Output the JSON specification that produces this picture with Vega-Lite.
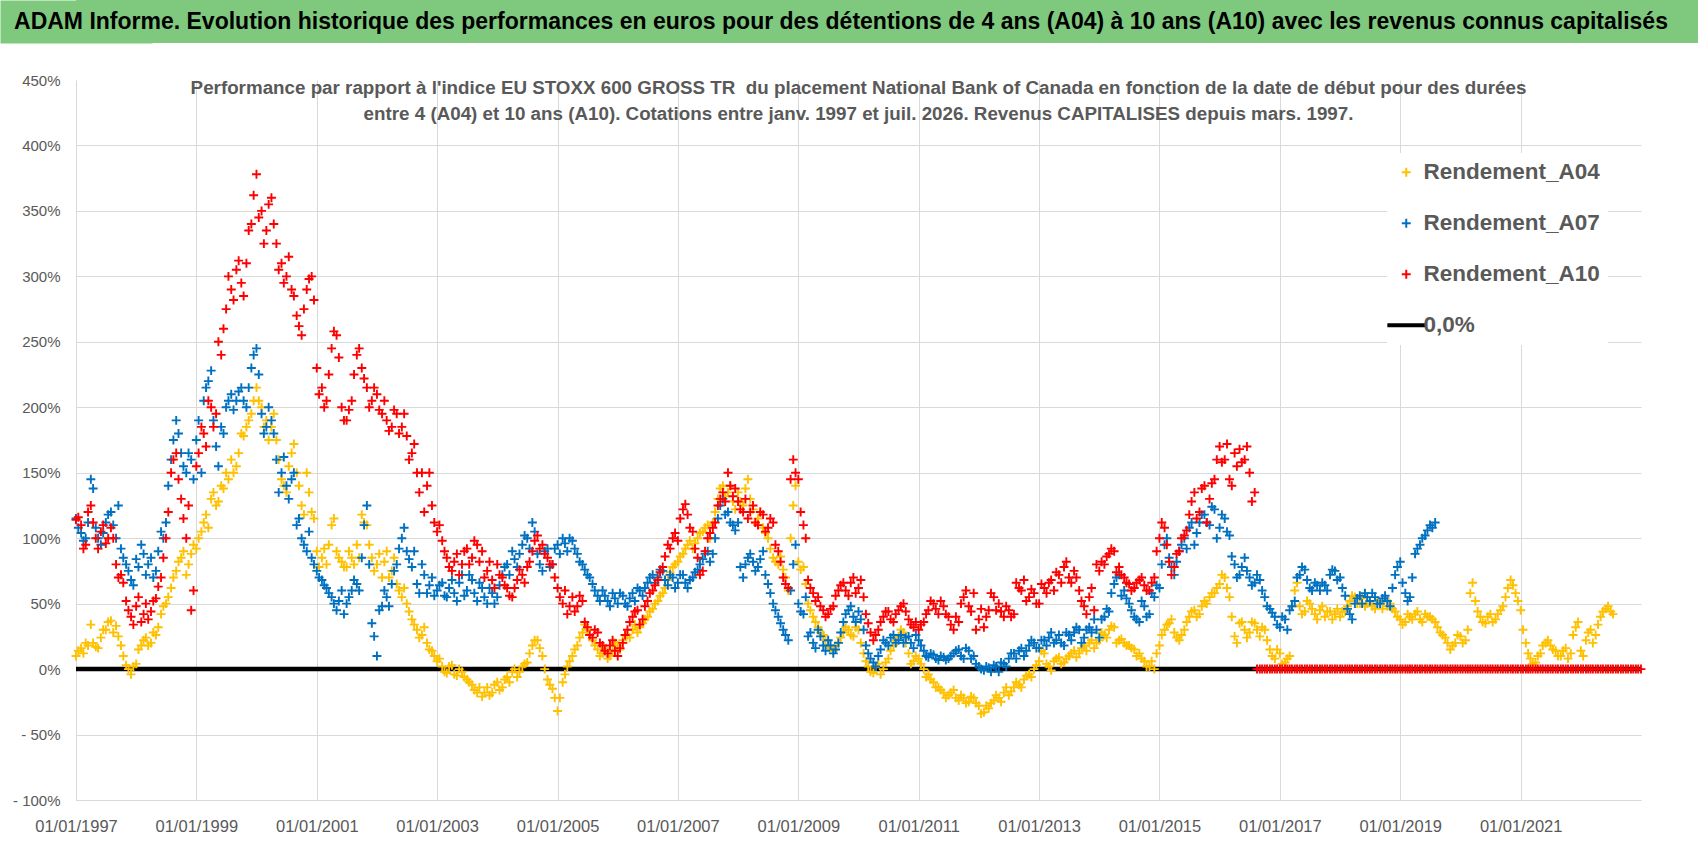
{
  "$schema": "https://vega.github.io/schema/vega-lite/v6.json",
  "background": "white",
  "padding": 0,
  "spacing": 30,
  "config": {
    "view": {"stroke": null},
    "axis": {
      "domain": false,
      "ticks": false,
      "title": null,
      "labelFont": "Liberation Sans",
      "labelFontSize": 15,
      "labelColor": "#595959",
      "gridColor": "#D9D9D9"
    },
    "legend": {
      "orient": "none",
      "legendX": 1311,
      "legendY": 153,
      "fillColor": "white",
      "padding": 8,
      "rowPadding": 28,
      "labelFont": "Liberation Sans",
      "labelFontSize": 22.5,
      "labelFontWeight": "bold",
      "labelColor": "#595959",
      "labelOffset": 6,
      "labelLimit": 0,
      "symbolSize": 80,
      "symbolStrokeWidth": 2
    }
  },
  "vconcat": [
    {
      "width": 1622,
      "height": 43,
      "view": {"fill": "#7FC97F", "stroke": null},
      "data": {"values": [{"t": "ADAM Informe. Evolution historique des performances en euros pour des détentions de 4 ans (A04) à 10 ans (A10) avec les revenus connus capitalisés"}]},
      "mark": {"type": "text", "font": "Liberation Sans", "fontSize": 23, "fontWeight": "bold", "color": "#000000", "dx": -46},
      "encoding": {
        "text": {"field": "t"},
        "y": {
          "datum": 0,
          "type": "quantitative",
          "scale": {"domain": [-1, 1]},
          "axis": {"domain": true, "domainColor": "#7FC97F", "domainWidth": 152, "domainCap": "butt", "labels": false, "grid": false, "ticks": false, "minExtent": 0}
        }
      }
    },
    {
      "width": 1565,
      "height": 720,
      "title": {
        "text": [
          "Performance par rapport à l'indice EU STOXX 600 GROSS TR \u00a0du placement National Bank of Canada en fonction de la date de début pour des durées",
          "entre 4 (A04) et 10 ans (A10). Cotations entre janv. 1997 et juil. 2026. Revenus CAPITALISES depuis mars. 1997."
        ],
        "font": "Liberation Sans",
        "fontSize": 18.8,
        "fontWeight": "bold",
        "color": "#595959",
        "anchor": "middle",
        "frame": "group",
        "lineHeight": 26,
        "offset": -51
      },
      "encoding": {
        "x": {
          "field": "d",
          "type": "temporal",
          "scale": {
            "type": "utc",
            "domain": [{"year": 1997, "month": 1, "date": 1, "utc": true}, {"year": 2023, "month": 1, "date": 1, "utc": true}]
          },
          "axis": {
            "values": [
              {"year": 1997, "month": 1, "date": 1, "utc": true},
              {"year": 1999, "month": 1, "date": 1, "utc": true},
              {"year": 2001, "month": 1, "date": 1, "utc": true},
              {"year": 2003, "month": 1, "date": 1, "utc": true},
              {"year": 2005, "month": 1, "date": 1, "utc": true},
              {"year": 2007, "month": 1, "date": 1, "utc": true},
              {"year": 2009, "month": 1, "date": 1, "utc": true},
              {"year": 2011, "month": 1, "date": 1, "utc": true},
              {"year": 2013, "month": 1, "date": 1, "utc": true},
              {"year": 2015, "month": 1, "date": 1, "utc": true},
              {"year": 2017, "month": 1, "date": 1, "utc": true},
              {"year": 2019, "month": 1, "date": 1, "utc": true},
              {"year": 2021, "month": 1, "date": 1, "utc": true}
            ],
            "format": "%d/%m/%Y",
            "labelFlush": false,
            "labelFontSize": 16.5,
            "labelPadding": 18
          }
        },
        "y": {
          "field": "v",
          "type": "quantitative",
          "scale": {"domain": [-100, 450], "nice": false, "zero": false},
          "axis": {
            "values": [-100, -50, 0, 50, 100, 150, 200, 250, 300, 350, 400, 450],
            "labelExpr": "(datum.value < 0 ? '- ' + abs(datum.value) : datum.value) + '%'",
            "labelPadding": 16,
            "minExtent": 76,
            "gridColor": {"condition": {"test": "datum.value === 450", "value": "transparent"}, "value": "#D9D9D9"}
          }
        }
      },
      "layer": [
        {
          "data": {"values": [{"d": "1997-01", "v": 0}, {"d": "2023-01", "v": 0}]},
          "mark": {"type": "line", "strokeWidth": 4.5, "color": "#000000"},
          "encoding": {}
        },
        {
          "data": {"values": [
            {"d":"1997-01","A04":10,"A07":115,"A10":114},
            {"d":"1997-02","A04":16,"A07":104,"A10":110},
            {"d":"1997-03","A04":20,"A07":100,"A10":95},
            {"d":"1997-04","A04":34,"A07":145,"A10":125},
            {"d":"1997-05","A04":17,"A07":108,"A10":100},
            {"d":"1997-06","A04":24,"A07":95,"A10":105},
            {"d":"1997-07","A04":30,"A07":112,"A10":96},
            {"d":"1997-08","A04":37,"A07":120,"A10":108},
            {"d":"1997-09","A04":33,"A07":100,"A10":80},
            {"d":"1997-10","A04":18,"A07":92,"A10":72},
            {"d":"1997-11","A04":3,"A07":80,"A10":52},
            {"d":"1997-12","A04":-4,"A07":68,"A10":40},
            {"d":"1998-01","A04":4,"A07":84,"A10":48},
            {"d":"1998-02","A04":18,"A07":95,"A10":36},
            {"d":"1998-03","A04":24,"A07":72,"A10":50},
            {"d":"1998-04","A04":20,"A07":85,"A10":44},
            {"d":"1998-05","A04":26,"A07":75,"A10":54},
            {"d":"1998-06","A04":42,"A07":105,"A10":70},
            {"d":"1998-07","A04":50,"A07":112,"A10":100},
            {"d":"1998-08","A04":62,"A07":160,"A10":150},
            {"d":"1998-09","A04":75,"A07":190,"A10":165},
            {"d":"1998-10","A04":85,"A07":165,"A10":130},
            {"d":"1998-11","A04":72,"A07":150,"A10":100},
            {"d":"1998-12","A04":88,"A07":160,"A10":45},
            {"d":"1999-01","A04":92,"A07":175,"A10":155},
            {"d":"1999-02","A04":105,"A07":150,"A10":185},
            {"d":"1999-03","A04":118,"A07":215,"A10":170},
            {"d":"1999-04","A04":130,"A07":228,"A10":200},
            {"d":"1999-05","A04":125,"A07":170,"A10":195},
            {"d":"1999-06","A04":140,"A07":185,"A10":240},
            {"d":"1999-07","A04":150,"A07":200,"A10":275},
            {"d":"1999-08","A04":160,"A07":210,"A10":290},
            {"d":"1999-09","A04":155,"A07":205,"A10":305},
            {"d":"1999-10","A04":180,"A07":215,"A10":295},
            {"d":"1999-11","A04":185,"A07":200,"A10":310},
            {"d":"1999-12","A04":195,"A07":230,"A10":340},
            {"d":"2000-01","A04":215,"A07":245,"A10":378},
            {"d":"2000-02","A04":200,"A07":195,"A10":350},
            {"d":"2000-03","A04":190,"A07":185,"A10":335},
            {"d":"2000-04","A04":185,"A07":190,"A10":360},
            {"d":"2000-05","A04":175,"A07":160,"A10":325},
            {"d":"2000-06","A04":145,"A07":150,"A10":310},
            {"d":"2000-07","A04":135,"A07":140,"A10":300},
            {"d":"2000-08","A04":165,"A07":145,"A10":290},
            {"d":"2000-09","A04":150,"A07":110,"A10":270},
            {"d":"2000-10","A04":125,"A07":100,"A10":255},
            {"d":"2000-11","A04":150,"A07":90,"A10":290},
            {"d":"2000-12","A04":120,"A07":85,"A10":300},
            {"d":"2001-01","A04":90,"A07":75,"A10":230},
            {"d":"2001-02","A04":85,"A07":68,"A10":215},
            {"d":"2001-03","A04":80,"A07":62,"A10":205},
            {"d":"2001-04","A04":110,"A07":55,"A10":245},
            {"d":"2001-05","A04":90,"A07":45,"A10":255},
            {"d":"2001-06","A04":82,"A07":60,"A10":200},
            {"d":"2001-07","A04":78,"A07":50,"A10":190},
            {"d":"2001-08","A04":85,"A07":60,"A10":205},
            {"d":"2001-09","A04":95,"A07":65,"A10":240},
            {"d":"2001-10","A04":118,"A07":85,"A10":230},
            {"d":"2001-11","A04":110,"A07":125,"A10":215},
            {"d":"2001-12","A04":85,"A07":35,"A10":205},
            {"d":"2002-01","A04":80,"A07":10,"A10":210},
            {"d":"2002-02","A04":70,"A07":48,"A10":195},
            {"d":"2002-03","A04":90,"A07":55,"A10":190},
            {"d":"2002-04","A04":75,"A07":65,"A10":185},
            {"d":"2002-05","A04":65,"A07":80,"A10":195},
            {"d":"2002-06","A04":55,"A07":100,"A10":185},
            {"d":"2002-07","A04":50,"A07":90,"A10":178},
            {"d":"2002-08","A04":38,"A07":78,"A10":165},
            {"d":"2002-09","A04":30,"A07":65,"A10":150},
            {"d":"2002-10","A04":26,"A07":80,"A10":150},
            {"d":"2002-11","A04":20,"A07":58,"A10":140},
            {"d":"2002-12","A04":14,"A07":70,"A10":125},
            {"d":"2003-01","A04":6,"A07":60,"A10":105},
            {"d":"2003-02","A04":2,"A07":66,"A10":98},
            {"d":"2003-03","A04":-3,"A07":55,"A10":85},
            {"d":"2003-04","A04":3,"A07":68,"A10":75},
            {"d":"2003-05","A04":-5,"A07":52,"A10":88},
            {"d":"2003-06","A04":-2,"A07":72,"A10":80},
            {"d":"2003-07","A04":-8,"A07":60,"A10":92},
            {"d":"2003-08","A04":-12,"A07":68,"A10":85},
            {"d":"2003-09","A04":-18,"A07":52,"A10":95},
            {"d":"2003-10","A04":-21,"A07":62,"A10":90},
            {"d":"2003-11","A04":-14,"A07":50,"A10":75},
            {"d":"2003-12","A04":-18,"A07":58,"A10":68},
            {"d":"2004-01","A04":-10,"A07":55,"A10":80},
            {"d":"2004-02","A04":-14,"A07":72,"A10":70},
            {"d":"2004-03","A04":-6,"A07":80,"A10":62},
            {"d":"2004-04","A04":-2,"A07":90,"A10":55},
            {"d":"2004-05","A04":-6,"A07":78,"A10":68},
            {"d":"2004-06","A04":2,"A07":95,"A10":72},
            {"d":"2004-07","A04":5,"A07":100,"A10":78},
            {"d":"2004-08","A04":18,"A07":112,"A10":90},
            {"d":"2004-09","A04":22,"A07":88,"A10":102},
            {"d":"2004-10","A04":10,"A07":75,"A10":95},
            {"d":"2004-11","A04":-8,"A07":92,"A10":85},
            {"d":"2004-12","A04":-15,"A07":80,"A10":80},
            {"d":"2005-01","A04":-32,"A07":95,"A10":62},
            {"d":"2005-02","A04":-10,"A07":100,"A10":50},
            {"d":"2005-03","A04":2,"A07":90,"A10":42},
            {"d":"2005-04","A04":10,"A07":98,"A10":55},
            {"d":"2005-05","A04":18,"A07":88,"A10":48},
            {"d":"2005-06","A04":28,"A07":80,"A10":52},
            {"d":"2005-07","A04":30,"A07":72,"A10":32},
            {"d":"2005-08","A04":22,"A07":65,"A10":24},
            {"d":"2005-09","A04":15,"A07":56,"A10":28},
            {"d":"2005-10","A04":12,"A07":60,"A10":18},
            {"d":"2005-11","A04":8,"A07":52,"A10":12},
            {"d":"2005-12","A04":14,"A07":58,"A10":22},
            {"d":"2006-01","A04":18,"A07":50,"A10":10},
            {"d":"2006-02","A04":22,"A07":56,"A10":20},
            {"d":"2006-03","A04":26,"A07":48,"A10":30},
            {"d":"2006-04","A04":30,"A07":58,"A10":40},
            {"d":"2006-05","A04":28,"A07":62,"A10":45},
            {"d":"2006-06","A04":35,"A07":56,"A10":38},
            {"d":"2006-07","A04":40,"A07":66,"A10":52},
            {"d":"2006-08","A04":46,"A07":72,"A10":60},
            {"d":"2006-09","A04":52,"A07":70,"A10":68},
            {"d":"2006-10","A04":58,"A07":75,"A10":78},
            {"d":"2006-11","A04":68,"A07":64,"A10":95},
            {"d":"2006-12","A04":78,"A07":70,"A10":100},
            {"d":"2007-01","A04":82,"A07":66,"A10":98},
            {"d":"2007-02","A04":88,"A07":72,"A10":122},
            {"d":"2007-03","A04":95,"A07":62,"A10":118},
            {"d":"2007-04","A04":92,"A07":70,"A10":105},
            {"d":"2007-05","A04":100,"A07":76,"A10":85},
            {"d":"2007-06","A04":105,"A07":84,"A10":75},
            {"d":"2007-07","A04":110,"A07":90,"A10":100},
            {"d":"2007-08","A04":112,"A07":88,"A10":108},
            {"d":"2007-09","A04":130,"A07":115,"A10":125},
            {"d":"2007-10","A04":140,"A07":130,"A10":135},
            {"d":"2007-11","A04":135,"A07":120,"A10":150},
            {"d":"2007-12","A04":128,"A07":110,"A10":132},
            {"d":"2008-01","A04":135,"A07":112,"A10":128},
            {"d":"2008-02","A04":125,"A07":70,"A10":120},
            {"d":"2008-03","A04":145,"A07":85,"A10":115},
            {"d":"2008-04","A04":122,"A07":82,"A10":125},
            {"d":"2008-05","A04":115,"A07":78,"A10":110},
            {"d":"2008-06","A04":108,"A07":90,"A10":118},
            {"d":"2008-07","A04":100,"A07":65,"A10":108},
            {"d":"2008-08","A04":85,"A07":50,"A10":112},
            {"d":"2008-09","A04":80,"A07":40,"A10":90},
            {"d":"2008-10","A04":76,"A07":30,"A10":70},
            {"d":"2008-11","A04":60,"A07":22,"A10":62},
            {"d":"2008-12","A04":125,"A07":80,"A10":160},
            {"d":"2009-01","A04":82,"A07":50,"A10":145},
            {"d":"2009-02","A04":78,"A07":42,"A10":110},
            {"d":"2009-03","A04":50,"A07":25,"A10":68},
            {"d":"2009-04","A04":40,"A07":20,"A10":58},
            {"d":"2009-05","A04":32,"A07":30,"A10":55},
            {"d":"2009-06","A04":26,"A07":18,"A10":45},
            {"d":"2009-07","A04":18,"A07":22,"A10":42},
            {"d":"2009-08","A04":14,"A07":12,"A10":48},
            {"d":"2009-09","A04":20,"A07":20,"A10":60},
            {"d":"2009-10","A04":28,"A07":36,"A10":66},
            {"d":"2009-11","A04":30,"A07":45,"A10":56},
            {"d":"2009-12","A04":25,"A07":40,"A10":70},
            {"d":"2010-01","A04":30,"A07":44,"A10":62},
            {"d":"2010-02","A04":12,"A07":30,"A10":55},
            {"d":"2010-03","A04":2,"A07":12,"A10":35},
            {"d":"2010-04","A04":-3,"A07":5,"A10":22},
            {"d":"2010-05","A04":4,"A07":10,"A10":30},
            {"d":"2010-06","A04":0,"A07":22,"A10":40},
            {"d":"2010-07","A04":8,"A07":18,"A10":44},
            {"d":"2010-08","A04":18,"A07":26,"A10":36},
            {"d":"2010-09","A04":25,"A07":22,"A10":45},
            {"d":"2010-10","A04":28,"A07":20,"A10":50},
            {"d":"2010-11","A04":12,"A07":25,"A10":38},
            {"d":"2010-12","A04":6,"A07":16,"A10":32},
            {"d":"2011-01","A04":8,"A07":22,"A10":30},
            {"d":"2011-02","A04":0,"A07":14,"A10":36},
            {"d":"2011-03","A04":-4,"A07":9,"A10":45},
            {"d":"2011-04","A04":-10,"A07":11,"A10":50},
            {"d":"2011-05","A04":-14,"A07":7,"A10":42},
            {"d":"2011-06","A04":-18,"A07":9,"A10":48},
            {"d":"2011-07","A04":-20,"A07":8,"A10":40},
            {"d":"2011-08","A04":-16,"A07":12,"A10":30},
            {"d":"2011-09","A04":-24,"A07":15,"A10":36},
            {"d":"2011-10","A04":-22,"A07":8,"A10":55},
            {"d":"2011-11","A04":-25,"A07":14,"A10":48},
            {"d":"2011-12","A04":-22,"A07":10,"A10":58},
            {"d":"2012-01","A04":-28,"A07":2,"A10":38},
            {"d":"2012-02","A04":-33,"A07":-1,"A10":32},
            {"d":"2012-03","A04":-30,"A07":1,"A10":45},
            {"d":"2012-04","A04":-24,"A07":3,"A10":55},
            {"d":"2012-05","A04":-22,"A07":-2,"A10":50},
            {"d":"2012-06","A04":-18,"A07":4,"A10":40},
            {"d":"2012-07","A04":-20,"A07":8,"A10":45},
            {"d":"2012-08","A04":-14,"A07":12,"A10":42},
            {"d":"2012-09","A04":-12,"A07":14,"A10":62},
            {"d":"2012-10","A04":-8,"A07":10,"A10":68},
            {"d":"2012-11","A04":-4,"A07":18,"A10":55},
            {"d":"2012-12","A04":0,"A07":20,"A10":58},
            {"d":"2013-01","A04":6,"A07":16,"A10":50},
            {"d":"2013-02","A04":12,"A07":22,"A10":62},
            {"d":"2013-03","A04":2,"A07":24,"A10":66},
            {"d":"2013-04","A04":6,"A07":20,"A10":60},
            {"d":"2013-05","A04":9,"A07":26,"A10":72},
            {"d":"2013-06","A04":5,"A07":18,"A10":78},
            {"d":"2013-07","A04":10,"A07":26,"A10":70},
            {"d":"2013-08","A04":14,"A07":28,"A10":75},
            {"d":"2013-09","A04":12,"A07":30,"A10":60},
            {"d":"2013-10","A04":18,"A07":24,"A10":48},
            {"d":"2013-11","A04":20,"A07":32,"A10":55},
            {"d":"2013-12","A04":16,"A07":38,"A10":45},
            {"d":"2014-01","A04":22,"A07":24,"A10":75},
            {"d":"2014-02","A04":26,"A07":40,"A10":80},
            {"d":"2014-03","A04":30,"A07":44,"A10":88},
            {"d":"2014-04","A04":32,"A07":65,"A10":90},
            {"d":"2014-05","A04":22,"A07":72,"A10":78},
            {"d":"2014-06","A04":20,"A07":60,"A10":70},
            {"d":"2014-07","A04":18,"A07":50,"A10":65},
            {"d":"2014-08","A04":15,"A07":40,"A10":62},
            {"d":"2014-09","A04":12,"A07":36,"A10":68},
            {"d":"2014-10","A04":6,"A07":48,"A10":64},
            {"d":"2014-11","A04":2,"A07":42,"A10":60},
            {"d":"2014-12","A04":0,"A07":55,"A10":70},
            {"d":"2015-01","A04":18,"A07":62,"A10":100},
            {"d":"2015-02","A04":30,"A07":95,"A10":108},
            {"d":"2015-03","A04":35,"A07":85,"A10":82},
            {"d":"2015-04","A04":28,"A07":72,"A10":78},
            {"d":"2015-05","A04":22,"A07":90,"A10":90},
            {"d":"2015-06","A04":30,"A07":100,"A10":102},
            {"d":"2015-07","A04":40,"A07":108,"A10":118},
            {"d":"2015-08","A04":45,"A07":95,"A10":135},
            {"d":"2015-09","A04":42,"A07":112,"A10":120},
            {"d":"2015-10","A04":52,"A07":118,"A10":140},
            {"d":"2015-11","A04":55,"A07":110,"A10":130},
            {"d":"2015-12","A04":58,"A07":122,"A10":145},
            {"d":"2016-01","A04":65,"A07":108,"A10":170},
            {"d":"2016-02","A04":70,"A07":115,"A10":160},
            {"d":"2016-03","A04":55,"A07":102,"A10":145},
            {"d":"2016-04","A04":25,"A07":80,"A10":165},
            {"d":"2016-05","A04":35,"A07":72,"A10":168},
            {"d":"2016-06","A04":30,"A07":85,"A10":160},
            {"d":"2016-07","A04":28,"A07":70,"A10":150},
            {"d":"2016-08","A04":35,"A07":66,"A10":135},
            {"d":"2016-09","A04":25,"A07":68,"A10":0},
            {"d":"2016-10","A04":30,"A07":55,"A10":0},
            {"d":"2016-11","A04":15,"A07":46,"A10":0},
            {"d":"2016-12","A04":8,"A07":40,"A10":0},
            {"d":"2017-01","A04":12,"A07":32,"A10":0},
            {"d":"2017-02","A04":5,"A07":38,"A10":0},
            {"d":"2017-03","A04":10,"A07":45,"A10":0},
            {"d":"2017-04","A04":60,"A07":52,"A10":0},
            {"d":"2017-05","A04":48,"A07":72,"A10":0},
            {"d":"2017-06","A04":44,"A07":76,"A10":0},
            {"d":"2017-07","A04":50,"A07":62,"A10":0},
            {"d":"2017-08","A04":42,"A07":66,"A10":0},
            {"d":"2017-09","A04":45,"A07":60,"A10":0},
            {"d":"2017-10","A04":40,"A07":64,"A10":0},
            {"d":"2017-11","A04":44,"A07":72,"A10":0},
            {"d":"2017-12","A04":42,"A07":75,"A10":0},
            {"d":"2018-01","A04":40,"A07":70,"A10":0},
            {"d":"2018-02","A04":44,"A07":56,"A10":0},
            {"d":"2018-03","A04":52,"A07":42,"A10":0},
            {"d":"2018-04","A04":55,"A07":50,"A10":0},
            {"d":"2018-05","A04":50,"A07":56,"A10":0},
            {"d":"2018-06","A04":48,"A07":58,"A10":0},
            {"d":"2018-07","A04":52,"A07":52,"A10":0},
            {"d":"2018-08","A04":46,"A07":55,"A10":0},
            {"d":"2018-09","A04":50,"A07":50,"A10":0},
            {"d":"2018-10","A04":54,"A07":56,"A10":0},
            {"d":"2018-11","A04":50,"A07":48,"A10":0},
            {"d":"2018-12","A04":44,"A07":72,"A10":0},
            {"d":"2019-01","A04":38,"A07":82,"A10":0},
            {"d":"2019-02","A04":36,"A07":58,"A10":0},
            {"d":"2019-03","A04":40,"A07":55,"A10":0},
            {"d":"2019-04","A04":42,"A07":88,"A10":0},
            {"d":"2019-05","A04":38,"A07":95,"A10":0},
            {"d":"2019-06","A04":42,"A07":102,"A10":0},
            {"d":"2019-07","A04":40,"A07":110,"A10":0},
            {"d":"2019-08","A04":36,"A07":112,"A10":0},
            {"d":"2019-09","A04":28,"A10":0},
            {"d":"2019-10","A04":24,"A10":0},
            {"d":"2019-11","A04":15,"A10":0},
            {"d":"2019-12","A04":20,"A10":0},
            {"d":"2020-01","A04":25,"A10":0},
            {"d":"2020-02","A04":22,"A10":0},
            {"d":"2020-03","A04":58,"A10":0},
            {"d":"2020-04","A04":52,"A10":0},
            {"d":"2020-05","A04":40,"A10":0},
            {"d":"2020-06","A04":35,"A10":0},
            {"d":"2020-07","A04":42,"A10":0},
            {"d":"2020-08","A04":38,"A10":0},
            {"d":"2020-09","A04":45,"A10":0},
            {"d":"2020-10","A04":55,"A10":0},
            {"d":"2020-11","A04":68,"A10":0},
            {"d":"2020-12","A04":58,"A10":0},
            {"d":"2021-01","A04":45,"A10":0},
            {"d":"2021-02","A04":20,"A10":0},
            {"d":"2021-03","A04":8,"A10":0},
            {"d":"2021-04","A04":5,"A10":0},
            {"d":"2021-05","A04":12,"A10":0},
            {"d":"2021-06","A04":20,"A10":0},
            {"d":"2021-07","A04":18,"A10":0},
            {"d":"2021-08","A04":14,"A10":0},
            {"d":"2021-09","A04":10,"A10":0},
            {"d":"2021-10","A04":16,"A10":0},
            {"d":"2021-11","A04":12,"A10":0},
            {"d":"2021-12","A04":32,"A10":0},
            {"d":"2022-01","A04":14,"A10":0},
            {"d":"2022-02","A04":22,"A10":0},
            {"d":"2022-03","A04":30,"A10":0},
            {"d":"2022-04","A04":26,"A10":0},
            {"d":"2022-05","A04":40,"A10":0},
            {"d":"2022-06","A04":46,"A10":0},
            {"d":"2022-07","A04":44,"A10":0},
            {"d":"2022-08","A10":0},
            {"d":"2022-09","A10":0},
            {"d":"2022-10","A10":0},
            {"d":"2022-11","A10":0},
            {"d":"2022-12","A10":0},
            {"d":"2023-01","A10":0},
            {"d":"1997-01-15","A04":14,"A07":108,"A10":116},
            {"d":"1997-02-15","A04":12,"A07":98,"A10":92},
            {"d":"1997-03-15","A04":18,"A07":112,"A10":120},
            {"d":"1997-04-15","A04":20,"A07":138,"A10":112},
            {"d":"1997-05-15","A04":16,"A07":100,"A10":92},
            {"d":"1997-06-15","A04":30,"A07":104,"A10":110},
            {"d":"1997-07-15","A04":36,"A07":118,"A10":100},
            {"d":"1997-08-15","A04":28,"A07":110,"A10":100},
            {"d":"1997-09-15","A04":25,"A07":125,"A10":70},
            {"d":"1997-10-15","A04":10,"A07":85,"A10":66},
            {"d":"1997-11-15","A04":0,"A07":75,"A10":45},
            {"d":"1997-12-15","A04":2,"A07":64,"A10":34},
            {"d":"1998-01-15","A04":15,"A07":78,"A10":55},
            {"d":"1998-02-15","A04":22,"A07":88,"A10":42},
            {"d":"1998-03-15","A04":18,"A07":80,"A10":38},
            {"d":"1998-04-15","A04":28,"A07":70,"A10":52},
            {"d":"1998-05-15","A04":32,"A07":90,"A10":63},
            {"d":"1998-06-15","A04":48,"A07":100,"A10":85},
            {"d":"1998-07-15","A04":55,"A07":140,"A10":120},
            {"d":"1998-08-15","A04":70,"A07":175,"A10":160},
            {"d":"1998-09-15","A04":82,"A07":180,"A10":145},
            {"d":"1998-10-15","A04":90,"A07":155,"A10":115},
            {"d":"1998-11-15","A04":80,"A07":165,"A10":125},
            {"d":"1998-12-15","A04":95,"A07":145,"A10":60},
            {"d":"1999-01-15","A04":100,"A07":190,"A10":165},
            {"d":"1999-02-15","A04":112,"A07":205,"A10":180},
            {"d":"1999-03-15","A04":108,"A07":220,"A10":205},
            {"d":"1999-04-15","A04":135,"A07":190,"A10":185},
            {"d":"1999-05-15","A04":128,"A07":155,"A10":250},
            {"d":"1999-06-15","A04":138,"A07":180,"A10":260},
            {"d":"1999-07-15","A04":145,"A07":205,"A10":300},
            {"d":"1999-08-15","A04":150,"A07":198,"A10":282},
            {"d":"1999-09-15","A04":165,"A07":212,"A10":312},
            {"d":"1999-10-15","A04":178,"A07":205,"A10":285},
            {"d":"1999-11-15","A04":190,"A07":215,"A10":335},
            {"d":"1999-12-15","A04":205,"A07":240,"A10":362},
            {"d":"2000-01-15","A04":205,"A07":225,"A10":345},
            {"d":"2000-02-15","A04":185,"A07":180,"A10":325},
            {"d":"2000-03-15","A04":175,"A07":200,"A10":355},
            {"d":"2000-04-15","A04":195,"A07":180,"A10":340},
            {"d":"2000-05-15","A04":160,"A07":135,"A10":305},
            {"d":"2000-06-15","A04":140,"A07":162,"A10":295},
            {"d":"2000-07-15","A04":155,"A07":130,"A10":315},
            {"d":"2000-08-15","A04":172,"A07":150,"A10":285},
            {"d":"2000-09-15","A04":140,"A07":115,"A10":262},
            {"d":"2000-10-15","A04":118,"A07":95,"A10":275},
            {"d":"2000-11-15","A04":135,"A07":105,"A10":298},
            {"d":"2000-12-15","A04":115,"A07":80,"A10":282},
            {"d":"2001-01-15","A04":78,"A07":70,"A10":210},
            {"d":"2001-02-15","A04":92,"A07":64,"A10":200},
            {"d":"2001-03-15","A04":95,"A07":58,"A10":225},
            {"d":"2001-04-15","A04":115,"A07":50,"A10":258},
            {"d":"2001-05-15","A04":85,"A07":52,"A10":238},
            {"d":"2001-06-15","A04":78,"A07":42,"A10":190},
            {"d":"2001-07-15","A04":90,"A07":55,"A10":198},
            {"d":"2001-08-15","A04":80,"A07":68,"A10":225},
            {"d":"2001-09-15","A04":85,"A07":60,"A10":245},
            {"d":"2001-10-15","A04":112,"A07":110,"A10":222},
            {"d":"2001-11-15","A04":95,"A07":80,"A10":200},
            {"d":"2001-12-15","A04":75,"A07":25,"A10":215},
            {"d":"2002-01-15","A04":88,"A07":45,"A10":198},
            {"d":"2002-02-15","A04":82,"A07":60,"A10":205},
            {"d":"2002-03-15","A04":70,"A07":48,"A10":182},
            {"d":"2002-04-15","A04":85,"A07":75,"A10":198},
            {"d":"2002-05-15","A04":60,"A07":92,"A10":180},
            {"d":"2002-06-15","A04":62,"A07":108,"A10":195},
            {"d":"2002-07-15","A04":44,"A07":84,"A10":160},
            {"d":"2002-08-15","A04":34,"A07":90,"A10":172},
            {"d":"2002-09-15","A04":24,"A07":58,"A10":135},
            {"d":"2002-10-15","A04":32,"A07":72,"A10":120},
            {"d":"2002-11-15","A04":15,"A07":64,"A10":150},
            {"d":"2002-12-15","A04":10,"A07":56,"A10":112},
            {"d":"2003-01-15","A04":8,"A07":64,"A10":110},
            {"d":"2003-02-15","A04":-2,"A07":56,"A10":90},
            {"d":"2003-03-15","A04":2,"A07":62,"A10":78},
            {"d":"2003-04-15","A04":-4,"A07":58,"A10":82},
            {"d":"2003-05-15","A04":0,"A07":66,"A10":72},
            {"d":"2003-06-15","A04":-6,"A07":56,"A10":90},
            {"d":"2003-07-15","A04":-10,"A07":72,"A10":80},
            {"d":"2003-08-15","A04":-16,"A07":58,"A10":98},
            {"d":"2003-09-15","A04":-14,"A07":66,"A10":82},
            {"d":"2003-10-15","A04":-18,"A07":55,"A10":70},
            {"d":"2003-11-15","A04":-20,"A07":62,"A10":82},
            {"d":"2003-12-15","A04":-12,"A07":50,"A10":62},
            {"d":"2004-01-15","A04":-16,"A07":64,"A10":72},
            {"d":"2004-02-15","A04":-8,"A07":78,"A10":64},
            {"d":"2004-03-15","A04":-10,"A07":72,"A10":56},
            {"d":"2004-04-15","A04":0,"A07":84,"A10":62},
            {"d":"2004-05-15","A04":-2,"A07":88,"A10":76},
            {"d":"2004-06-15","A04":4,"A07":102,"A10":66},
            {"d":"2004-07-15","A04":12,"A07":92,"A10":82},
            {"d":"2004-08-15","A04":22,"A07":105,"A10":98},
            {"d":"2004-09-15","A04":16,"A07":80,"A10":92},
            {"d":"2004-10-15","A04":0,"A07":90,"A10":88},
            {"d":"2004-11-15","A04":-12,"A07":78,"A10":80},
            {"d":"2004-12-15","A04":-22,"A07":92,"A10":70},
            {"d":"2005-01-15","A04":-22,"A07":88,"A10":55},
            {"d":"2005-02-15","A04":-4,"A07":96,"A10":60},
            {"d":"2005-03-15","A04":6,"A07":100,"A10":48},
            {"d":"2005-04-15","A04":15,"A07":92,"A10":44},
            {"d":"2005-05-15","A04":24,"A07":82,"A10":56},
            {"d":"2005-06-15","A04":34,"A07":76,"A10":36},
            {"d":"2005-07-15","A04":26,"A07":70,"A10":26},
            {"d":"2005-08-15","A04":18,"A07":60,"A10":30},
            {"d":"2005-09-15","A04":10,"A07":52,"A10":20},
            {"d":"2005-10-15","A04":16,"A07":56,"A10":14},
            {"d":"2005-11-15","A04":10,"A07":48,"A10":18},
            {"d":"2005-12-15","A04":20,"A07":54,"A10":14},
            {"d":"2006-01-15","A04":15,"A07":58,"A10":16},
            {"d":"2006-02-15","A04":26,"A07":50,"A10":26},
            {"d":"2006-03-15","A04":24,"A07":54,"A10":36},
            {"d":"2006-04-15","A04":34,"A07":52,"A10":44},
            {"d":"2006-05-15","A04":32,"A07":60,"A10":34},
            {"d":"2006-06-15","A04":38,"A07":62,"A10":48},
            {"d":"2006-07-15","A04":44,"A07":70,"A10":58},
            {"d":"2006-08-15","A04":50,"A07":66,"A10":64},
            {"d":"2006-09-15","A04":56,"A07":76,"A10":74},
            {"d":"2006-10-15","A04":62,"A07":68,"A10":86},
            {"d":"2006-11-15","A04":74,"A07":72,"A10":92},
            {"d":"2006-12-15","A04":80,"A07":62,"A10":104},
            {"d":"2007-01-15","A04":86,"A07":72,"A10":115},
            {"d":"2007-02-15","A04":92,"A07":66,"A10":126},
            {"d":"2007-03-15","A04":98,"A07":68,"A10":108},
            {"d":"2007-04-15","A04":96,"A07":74,"A10":92},
            {"d":"2007-05-15","A04":104,"A07":80,"A10":72},
            {"d":"2007-06-15","A04":108,"A07":88,"A10":90},
            {"d":"2007-07-15","A04":100,"A07":82,"A10":104},
            {"d":"2007-08-15","A04":120,"A07":100,"A10":112},
            {"d":"2007-09-15","A04":138,"A07":125,"A10":130},
            {"d":"2007-10-15","A04":132,"A07":118,"A10":128},
            {"d":"2007-11-15","A04":140,"A07":112,"A10":140},
            {"d":"2007-12-15","A04":122,"A07":106,"A10":138},
            {"d":"2008-01-15","A04":128,"A07":78,"A10":122},
            {"d":"2008-02-15","A04":138,"A07":80,"A10":130},
            {"d":"2008-03-15","A04":130,"A07":88,"A10":120},
            {"d":"2008-04-15","A04":112,"A07":75,"A10":112},
            {"d":"2008-05-15","A04":120,"A07":84,"A10":120},
            {"d":"2008-06-15","A04":104,"A07":72,"A10":105},
            {"d":"2008-07-15","A04":92,"A07":58,"A10":115},
            {"d":"2008-08-15","A04":82,"A07":45,"A10":95},
            {"d":"2008-09-15","A04":86,"A07":35,"A10":82},
            {"d":"2008-10-15","A04":70,"A07":26,"A10":65},
            {"d":"2008-11-15","A04":100,"A07":60,"A10":145},
            {"d":"2008-12-15","A04":140,"A07":95,"A10":150},
            {"d":"2009-01-15","A04":76,"A07":44,"A10":120},
            {"d":"2009-02-15","A04":65,"A07":55,"A10":100},
            {"d":"2009-03-15","A04":45,"A07":28,"A10":62},
            {"d":"2009-04-15","A04":36,"A07":16,"A10":52},
            {"d":"2009-05-15","A04":28,"A07":25,"A10":48},
            {"d":"2009-06-15","A04":22,"A07":14,"A10":40},
            {"d":"2009-07-15","A04":16,"A07":18,"A10":46},
            {"d":"2009-08-15","A04":18,"A07":15,"A10":56},
            {"d":"2009-09-15","A04":24,"A07":28,"A10":64},
            {"d":"2009-10-15","A04":32,"A07":42,"A10":60},
            {"d":"2009-11-15","A04":26,"A07":48,"A10":66},
            {"d":"2009-12-15","A04":32,"A07":36,"A10":58},
            {"d":"2010-01-15","A04":20,"A07":38,"A10":68},
            {"d":"2010-02-15","A04":6,"A07":18,"A10":42},
            {"d":"2010-03-15","A04":-2,"A07":8,"A10":28},
            {"d":"2010-04-15","A04":2,"A07":2,"A10":26},
            {"d":"2010-05-15","A04":-4,"A07":15,"A10":36},
            {"d":"2010-06-15","A04":5,"A07":20,"A10":44},
            {"d":"2010-07-15","A04":14,"A07":24,"A10":38},
            {"d":"2010-08-15","A04":22,"A07":20,"A10":42},
            {"d":"2010-09-15","A04":30,"A07":26,"A10":48},
            {"d":"2010-10-15","A04":20,"A07":24,"A10":44},
            {"d":"2010-11-15","A04":4,"A07":20,"A10":34},
            {"d":"2010-12-15","A04":10,"A07":26,"A10":36},
            {"d":"2011-01-15","A04":4,"A07":18,"A10":34},
            {"d":"2011-02-15","A04":-6,"A07":10,"A10":42},
            {"d":"2011-03-15","A04":-8,"A07":12,"A10":52},
            {"d":"2011-04-15","A04":-14,"A07":8,"A10":46},
            {"d":"2011-05-15","A04":-16,"A07":10,"A10":52},
            {"d":"2011-06-15","A04":-22,"A07":7,"A10":42},
            {"d":"2011-07-15","A04":-18,"A07":10,"A10":34},
            {"d":"2011-08-15","A04":-22,"A07":14,"A10":40},
            {"d":"2011-09-15","A04":-20,"A07":10,"A10":50},
            {"d":"2011-10-15","A04":-26,"A07":16,"A10":60},
            {"d":"2011-11-15","A04":-21,"A07":8,"A10":44},
            {"d":"2011-12-15","A04":-26,"A07":4,"A10":30},
            {"d":"2012-01-15","A04":-34,"A07":0,"A10":46},
            {"d":"2012-02-15","A04":-28,"A07":2,"A10":40},
            {"d":"2012-03-15","A04":-26,"A07":-2,"A10":58},
            {"d":"2012-04-15","A04":-20,"A07":2,"A10":45},
            {"d":"2012-05-15","A04":-25,"A07":5,"A10":44},
            {"d":"2012-06-15","A04":-14,"A07":2,"A10":48},
            {"d":"2012-07-15","A04":-17,"A07":12,"A10":40},
            {"d":"2012-08-15","A04":-10,"A07":8,"A10":66},
            {"d":"2012-09-15","A04":-14,"A07":16,"A10":60},
            {"d":"2012-10-15","A04":-5,"A07":14,"A10":52},
            {"d":"2012-11-15","A04":-6,"A07":22,"A10":61},
            {"d":"2012-12-15","A04":3,"A07":16,"A10":50},
            {"d":"2013-01-15","A04":14,"A07":22,"A10":65},
            {"d":"2013-02-15","A04":4,"A07":18,"A10":58},
            {"d":"2013-03-15","A04":-1,"A07":28,"A10":68},
            {"d":"2013-04-15","A04":8,"A07":22,"A10":74},
            {"d":"2013-05-15","A04":4,"A07":20,"A10":66},
            {"d":"2013-06-15","A04":8,"A07":28,"A10":82},
            {"d":"2013-07-15","A04":12,"A07":22,"A10":66},
            {"d":"2013-08-15","A04":9,"A07":32,"A10":70},
            {"d":"2013-09-15","A04":16,"A07":20,"A10":52},
            {"d":"2013-10-15","A04":14,"A07":30,"A10":42},
            {"d":"2013-11-15","A04":22,"A07":28,"A10":62},
            {"d":"2013-12-15","A04":20,"A07":30,"A10":80},
            {"d":"2014-01-15","A04":28,"A07":38,"A10":82},
            {"d":"2014-02-15","A04":24,"A07":46,"A10":86},
            {"d":"2014-03-15","A04":33,"A07":58,"A10":92},
            {"d":"2014-04-15","A04":20,"A07":70,"A10":74},
            {"d":"2014-05-15","A04":23,"A07":56,"A10":72},
            {"d":"2014-06-15","A04":18,"A07":54,"A10":66},
            {"d":"2014-07-15","A04":16,"A07":45,"A10":60},
            {"d":"2014-08-15","A04":10,"A07":38,"A10":66},
            {"d":"2014-09-15","A04":8,"A07":52,"A10":70},
            {"d":"2014-10-15","A04":2,"A07":40,"A10":60},
            {"d":"2014-11-15","A04":6,"A07":58,"A10":66},
            {"d":"2014-12-15","A04":12,"A07":64,"A10":90},
            {"d":"2015-01-15","A04":26,"A07":80,"A10":112},
            {"d":"2015-02-15","A04":34,"A07":100,"A10":95},
            {"d":"2015-03-15","A04":38,"A07":78,"A10":72},
            {"d":"2015-04-15","A04":24,"A07":82,"A10":88},
            {"d":"2015-05-15","A04":26,"A07":95,"A10":100},
            {"d":"2015-06-15","A04":36,"A07":92,"A10":106},
            {"d":"2015-07-15","A04":44,"A07":112,"A10":128},
            {"d":"2015-08-15","A04":40,"A07":104,"A10":115},
            {"d":"2015-09-15","A04":48,"A07":118,"A10":138},
            {"d":"2015-10-15","A04":50,"A07":112,"A10":112},
            {"d":"2015-11-15","A04":58,"A07":124,"A10":142},
            {"d":"2015-12-15","A04":62,"A07":100,"A10":160},
            {"d":"2016-01-15","A04":72,"A07":118,"A10":158},
            {"d":"2016-02-15","A04":62,"A07":105,"A10":172},
            {"d":"2016-03-15","A04":40,"A07":86,"A10":140},
            {"d":"2016-04-15","A04":20,"A07":70,"A10":155},
            {"d":"2016-05-15","A04":36,"A07":78,"A10":158},
            {"d":"2016-06-15","A04":24,"A07":75,"A10":170},
            {"d":"2016-07-15","A04":36,"A07":64,"A10":128},
            {"d":"2016-08-15","A04":30,"A07":72,"A10":0},
            {"d":"2016-09-15","A04":32,"A07":60,"A10":0},
            {"d":"2016-10-15","A04":22,"A07":48,"A10":0},
            {"d":"2016-11-15","A04":10,"A07":43,"A10":0},
            {"d":"2016-12-15","A04":15,"A07":34,"A10":0},
            {"d":"2017-01-15","A04":4,"A07":40,"A10":0},
            {"d":"2017-02-15","A04":8,"A07":30,"A10":0},
            {"d":"2017-03-15","A04":48,"A07":48,"A10":0},
            {"d":"2017-04-15","A04":66,"A07":70,"A10":0},
            {"d":"2017-05-15","A04":42,"A07":78,"A10":0},
            {"d":"2017-06-15","A04":52,"A07":68,"A10":0},
            {"d":"2017-07-15","A04":46,"A07":60,"A10":0},
            {"d":"2017-08-15","A04":38,"A07":64,"A10":0},
            {"d":"2017-09-15","A04":48,"A07":66,"A10":0},
            {"d":"2017-10-15","A04":44,"A07":60,"A10":0},
            {"d":"2017-11-15","A04":38,"A07":76,"A10":0},
            {"d":"2017-12-15","A04":46,"A07":68,"A10":0},
            {"d":"2018-01-15","A04":44,"A07":62,"A10":0},
            {"d":"2018-02-15","A04":48,"A07":46,"A10":0},
            {"d":"2018-03-15","A04":56,"A07":38,"A10":0},
            {"d":"2018-04-15","A04":50,"A07":54,"A10":0},
            {"d":"2018-05-15","A04":54,"A07":50,"A10":0},
            {"d":"2018-06-15","A04":50,"A07":55,"A10":0},
            {"d":"2018-07-15","A04":48,"A07":58,"A10":0},
            {"d":"2018-08-15","A04":52,"A07":50,"A10":0},
            {"d":"2018-09-15","A04":46,"A07":54,"A10":0},
            {"d":"2018-10-15","A04":48,"A07":52,"A10":0},
            {"d":"2018-11-15","A04":46,"A07":62,"A10":0},
            {"d":"2018-12-15","A04":40,"A07":78,"A10":0},
            {"d":"2019-01-15","A04":34,"A07":66,"A10":0},
            {"d":"2019-02-15","A04":42,"A07":52,"A10":0},
            {"d":"2019-03-15","A04":38,"A07":70,"A10":0},
            {"d":"2019-04-15","A04":44,"A07":92,"A10":0},
            {"d":"2019-05-15","A04":36,"A07":100,"A10":0},
            {"d":"2019-06-15","A04":40,"A07":106,"A10":0},
            {"d":"2019-07-15","A04":38,"A07":108,"A10":0},
            {"d":"2019-08-15","A04":32,"A10":0},
            {"d":"2019-09-15","A04":26,"A10":0},
            {"d":"2019-10-15","A04":20,"A10":0},
            {"d":"2019-11-15","A04":18,"A10":0},
            {"d":"2019-12-15","A04":26,"A10":0},
            {"d":"2020-01-15","A04":20,"A10":0},
            {"d":"2020-02-15","A04":30,"A10":0},
            {"d":"2020-03-15","A04":66,"A10":0},
            {"d":"2020-04-15","A04":44,"A10":0},
            {"d":"2020-05-15","A04":36,"A10":0},
            {"d":"2020-06-15","A04":40,"A10":0},
            {"d":"2020-07-15","A04":36,"A10":0},
            {"d":"2020-08-15","A04":42,"A10":0},
            {"d":"2020-09-15","A04":48,"A10":0},
            {"d":"2020-10-15","A04":62,"A10":0},
            {"d":"2020-11-15","A04":64,"A10":0},
            {"d":"2020-12-15","A04":52,"A10":0},
            {"d":"2021-01-15","A04":30,"A10":0},
            {"d":"2021-02-15","A04":12,"A10":0},
            {"d":"2021-03-15","A04":4,"A10":0},
            {"d":"2021-04-15","A04":10,"A10":0},
            {"d":"2021-05-15","A04":18,"A10":0},
            {"d":"2021-06-15","A04":22,"A10":0},
            {"d":"2021-07-15","A04":15,"A10":0},
            {"d":"2021-08-15","A04":10,"A10":0},
            {"d":"2021-09-15","A04":14,"A10":0},
            {"d":"2021-10-15","A04":8,"A10":0},
            {"d":"2021-11-15","A04":26,"A10":0},
            {"d":"2021-12-15","A04":36,"A10":0},
            {"d":"2022-01-15","A04":10,"A10":0},
            {"d":"2022-02-15","A04":28,"A10":0},
            {"d":"2022-03-15","A04":20,"A10":0},
            {"d":"2022-04-15","A04":34,"A10":0},
            {"d":"2022-05-15","A04":44,"A10":0},
            {"d":"2022-06-15","A04":48,"A10":0},
            {"d":"2022-07-15","A04":42,"A10":0},
            {"d":"2022-08-15","A10":0},
            {"d":"2022-09-15","A10":0},
            {"d":"2022-10-15","A10":0},
            {"d":"2022-11-15","A10":0},
            {"d":"2022-12-15","A10":0}
          ]},
          "transform": [
            {"fold": ["A04", "A07", "A10", "0,0%"], "as": ["k", "v"]},
            {"filter": "isValid(datum.v)"}
          ],
          "mark": {"type": "point", "filled": false, "opacity": 1, "size": 80, "strokeWidth": 1.9},
          "encoding": {
            "color": {
              "field": "k",
              "type": "nominal",
              "scale": {"domain": ["A04", "A07", "A10", "0,0%"], "range": ["#FFC000", "#0070C0", "#FF0000", "#000000"]},
              "legend": {"title": null, "labelExpr": "datum.value == '0,0%' ? datum.value : 'Rendement_' + datum.value + '\u00a0\u00a0\u00a0\u00a0'"}
            },
            "shape": {
              "field": "k",
              "type": "nominal",
              "scale": {"domain": ["A04", "A07", "A10", "0,0%"], "range": ["M-1,0H1M0,-1V1", "M-1,0H1M0,-1V1", "M-1,0H1M0,-1V1", "M-4,-0.2H4V0.2H-4Z"]},
              "legend": {"title": null, "labelExpr": "datum.value == '0,0%' ? datum.value : 'Rendement_' + datum.value + '\u00a0\u00a0\u00a0\u00a0'"}
            },
            "order": {"field": "k"}
          }
        }
      ]
    }
  ]
}
